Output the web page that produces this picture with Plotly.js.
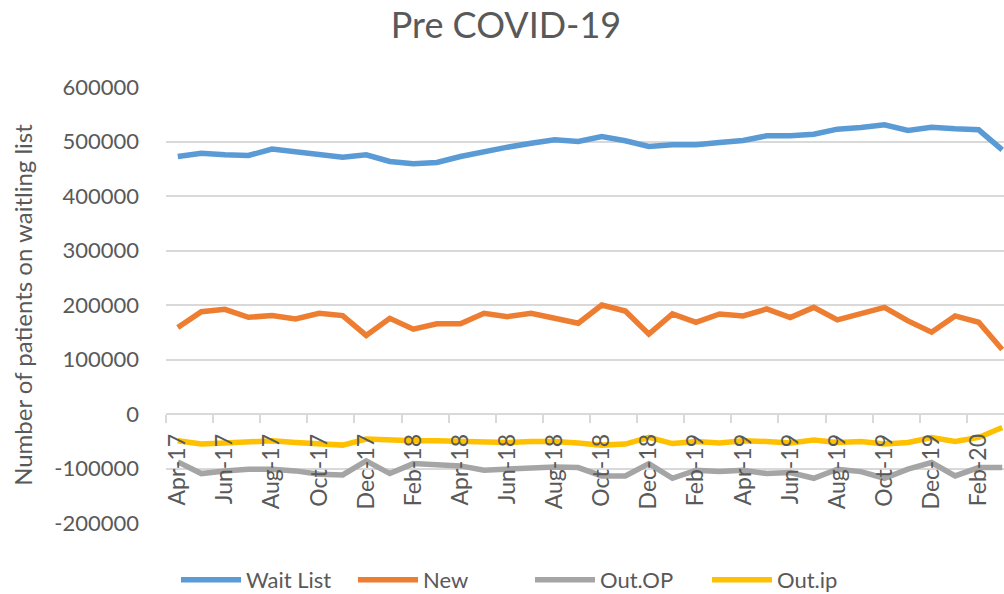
<!DOCTYPE html>
<html>
<head>
<meta charset="utf-8">
<script src="https://cdn.plot.ly/plotly-3.0.1.min.js"></script>
<style>
  html, body { margin: 0; padding: 0; overflow: hidden; background: #fff; width: 1004px; height: 594px; }
  #chart { width: 1020px; height: 594px; }
</style>
</head>
<body>
<div id="chart"></div>
<script>
const months = [
  "Apr-17","May-17","Jun-17","Jul-17","Aug-17","Sep-17","Oct-17","Nov-17","Dec-17","Jan-18","Feb-18","Mar-18",
  "Apr-18","May-18","Jun-18","Jul-18","Aug-18","Sep-18","Oct-18","Nov-18","Dec-18","Jan-19","Feb-19","Mar-19",
  "Apr-19","May-19","Jun-19","Jul-19","Aug-19","Sep-19","Oct-19","Nov-19","Dec-19","Jan-20","Feb-20","Mar-20"
];

const waitList = [
  472500, 478600, 475600, 474300, 486000, 481700, 477400, 471200, 475600, 463300, 459000, 461500,
  472500, 481700, 489600, 496900, 503000, 500000, 509200, 501300, 490800, 493900, 493900, 498200,
  501800, 510400, 510400, 513400, 522600, 525700, 530600, 520200, 526200, 523300, 521500, 484800
];

const newPatients = [
  158700, 187800, 192000, 177500, 180500, 174500, 184700, 180500, 144200, 175600, 155600, 165500,
  165500, 184700, 178700, 184700, 175600, 166500, 200000, 189000, 146600, 183600, 168400, 183600,
  180000, 192700, 176900, 195600, 172700, 182900, 195600, 170900, 150200, 180000, 168400, 118200
];

const outOP = [
  -87900, -109300, -104400, -101300, -101300, -104400, -110500, -111800, -86000, -109300, -91000, -92100,
  -95200, -103100, -101300, -101300, -97100, -98300, -113600, -113600, -91000, -117900, -103100, -105700,
  -103100, -109300, -107400, -117900, -101300, -105700, -117900, -101300, -89100, -113600, -98300, -98300
];

const outIP = [
  -49200, -55200, -53400, -50400, -49200, -52300, -55200, -57100, -46000, -47900, -49200, -49200,
  -50400, -52300, -52300, -50400, -50400, -53400, -57100, -55200, -43000, -54300, -50400, -53400,
  -49200, -50400, -53400, -47900, -52300, -50400, -55200, -52300, -43000, -50400, -43000, -24600
];

const yTickVals = [600000, 500000, 400000, 300000, 200000, 100000, 0, -100000, -200000];
const yTickLabels = ["600000", "500000", "400000", "300000", "200000", "100000", "0", "-100000", "-200000"];

const seriesNames = ["Wait List", "New", "Out.OP", "Out.ip"];
const seriesColors = ["#5B9BD5", "#ED7D31", "#A5A5A5", "#FFC000"];
const seriesValues = [waitList, newPatients, outOP, outIP];

const FONT = "Lato, 'Open Sans', 'DejaVu Sans', sans-serif";
const TEXT = "#595959";

const traces = seriesValues.map((vals, k) => ({
  type: "scatter",
  mode: "lines",
  name: seriesNames[k],
  x: months,
  y: vals,
  line: { color: seriesColors[k], width: 5.5 },
  hoverinfo: "x+y+name"
}));

const layout = {
  width: 1020,
  height: 594,
  margin: { l: 166, r: 6, t: 87, b: 71 },
  paper_bgcolor: "#ffffff",
  plot_bgcolor: "#ffffff",
  font: { family: FONT, color: TEXT, size: 22 },
  title: {
    text: "Pre COVID-19",
    font: { family: FONT, size: 36, color: TEXT },
    xref: "container", x: 506 / 1020, xanchor: "center",
    yref: "container", y: 1 - 25 / 594, yanchor: "middle"
  },
  xaxis: {
    type: "category",
    categoryorder: "array",
    categoryarray: months,
    range: [-0.5, months.length - 0.5],
    anchor: "free",
    position: 0.25,
    showgrid: false,
    showline: true,
    linecolor: "#d9d9d9",
    linewidth: 1.5,
    ticks: "outside",
    tickson: "boundaries",
    ticklen: 8,
    tickwidth: 1.5,
    tickcolor: "#d9d9d9",
    tickmode: "linear",
    tick0: 0,
    dtick: 2,
    tickangle: -90,
    ticklabelstandoff: 10,
    tickfont: { family: FONT, size: 23, color: TEXT },
    fixedrange: true
  },
  yaxis: {
    range: [-200000, 600000],
    tickmode: "array",
    tickvals: yTickVals,
    ticktext: yTickLabels,
    showgrid: true,
    gridcolor: "#d9d9d9",
    gridwidth: 1.5,
    zeroline: false,
    showline: false,
    ticks: "",
    ticklabelstandoff: 26,
    tickfont: { family: FONT, size: 22, color: TEXT },
    title: {
      text: "Number of patients on waitling list",
      font: { family: FONT, size: 24, color: TEXT },
      standoff: 14
    },
    automargin: false,
    fixedrange: true
  },
  showlegend: true,
  legend: {
    orientation: "h",
    xref: "container", x: 530 / 1020, xanchor: "center",
    yref: "container", y: 14 / 594, yanchor: "middle",
    font: { family: FONT, size: 22, color: TEXT },
    bgcolor: "rgba(0,0,0,0)",
    itemwidth: 60,
    entrywidth: 102,
    entrywidthmode: "pixels"
  }
};

Plotly.newPlot("chart", traces, layout, { displayModeBar: false, responsive: false });
</script>
</body>
</html>
